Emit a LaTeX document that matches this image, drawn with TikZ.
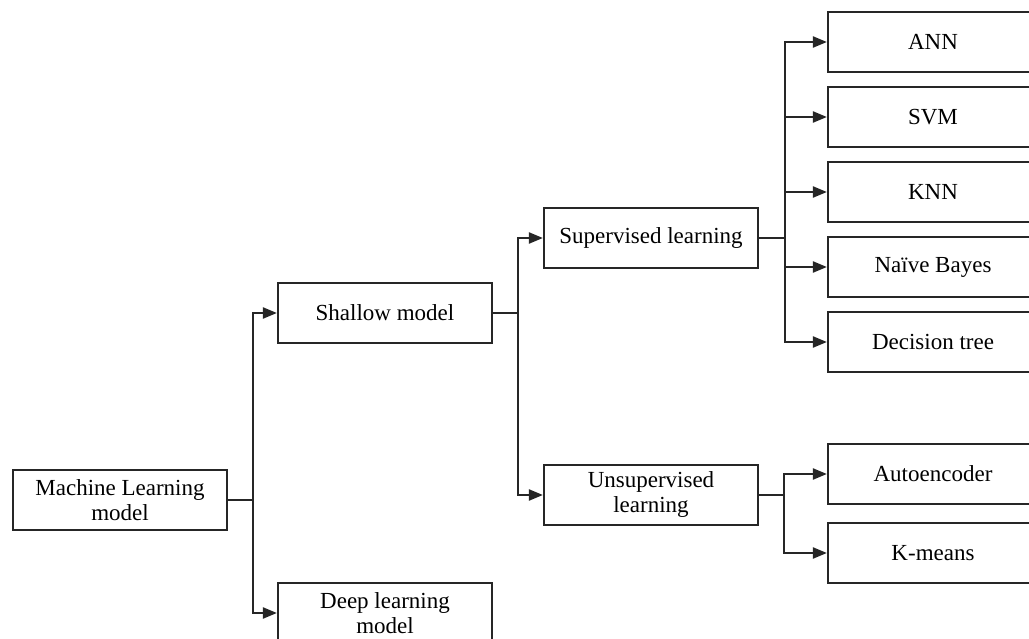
\documentclass[tikz,border=0pt]{standalone}
\usepackage{fontspec}
\setmainfont{Liberation Serif}
\usetikzlibrary{arrows.meta}

\begin{document}
\begin{tikzpicture}[x=1pt, y=-1pt, line width=2.2pt,
    box/.style={draw=black!85, fill=white, minimum width=214pt, minimum height=60pt, inner sep=2pt, align=center, font=\fontsize{23}{25}\selectfont},
    leaf/.style={box, minimum width=210pt},
    arr/.style={draw=black!85, -{Triangle[length=14pt,width=11pt]}}]
    \useasboundingbox (0,0) rectangle (1029,639);
    \clip (0,0) rectangle (1029,639);
    \node[box] (ml) at (120, 500) {Machine Learning\\model};
    \node[box] (shallow) at (385, 313) {Shallow model};
    \node[box] (deep) at (385, 613) {Deep learning\\model};
    \node[box] (sup) at (651, 238) {Supervised learning};
    \node[box] (unsup) at (651, 495) {Unsupervised\\learning};
    \node[leaf] (ann) at (933, 42) {ANN};
    \node[leaf] (svm) at (933, 117) {SVM};
    \node[leaf] (knn) at (933, 192) {KNN};
    \node[leaf] (nb) at (933, 267) {Naïve Bayes};
    \node[leaf] (dt) at (933, 342) {Decision tree};
    \node[leaf] (ae) at (933, 474) {Autoencoder};
    \node[leaf] (km) at (933, 553) {K-means};
    \draw[arr] (ml.east) -- ++(25,0) |- (shallow.west);
    \draw[arr] (ml.east) -- ++(25,0) |- (deep.west);
    \draw[arr] (shallow.east) -- ++(25,0) |- (sup.west);
    \draw[arr] (shallow.east) -- ++(25,0) |- (unsup.west);
    \draw[arr] (sup.east) -- ++(26,0) |- (ann.west);
    \draw[arr] (sup.east) -- ++(26,0) |- (svm.west);
    \draw[arr] (sup.east) -- ++(26,0) |- (knn.west);
    \draw[arr] (sup.east) -- ++(26,0) |- (nb.west);
    \draw[arr] (sup.east) -- ++(26,0) |- (dt.west);
    \draw[arr] (unsup.east) -- ++(25,0) |- (ae.west);
    \draw[arr] (unsup.east) -- ++(25,0) |- (km.west);
\end{tikzpicture}
\end{document}
